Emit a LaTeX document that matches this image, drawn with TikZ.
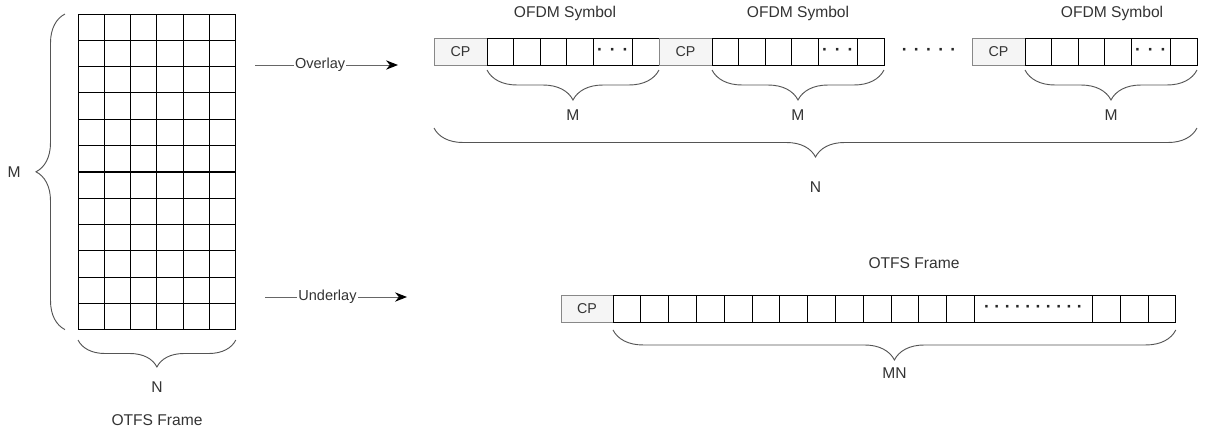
\documentclass[tikz,border=0pt]{standalone}
\usepackage{fontspec}
\setmainfont{Liberation Sans}
\usetikzlibrary{positioning, arrows.meta, decorations.pathreplacing}
\definecolor{txt}{HTML}{333333}
\definecolor{cpfill}{HTML}{F5F5F5}
\definecolor{cpline}{HTML}{888888}
\definecolor{brcline}{HTML}{555555}

\begin{document}
\begin{tikzpicture}[
        x=0.75pt, y=0.75pt,
        every node/.style={text=txt},
        lbl/.style={font=\fontsize{11.7}{14}\selectfont},
        elbl/.style={font=\fontsize{10.9}{13}\selectfont, fill=white, inner sep=1pt},
        cpbox/.style={rectangle, draw=cpline, fill=cpfill, line width=0.6pt, outer sep=0pt, minimum width=39.75pt, minimum height=20.25pt, font=\fontsize{10.7}{13}\selectfont},
        cell/.style={rectangle, draw, line width=0.7pt, outer sep=0pt, inner sep=0pt, minimum width=19.875pt, minimum height=20.25pt},
        dots/.style={font=\bfseries\fontsize{13}{13}\selectfont, text=black!85},
        dcell/.style={cell, minimum width=29.6pt, dots},
        brc/.style={decorate, decoration={brace, amplitude=#1}, draw=brcline, line width=0.7pt},
        arrow/.style={-{Stealth[length=9pt, width=7pt, color=black]}, draw=black!60, line width=0.7pt},
    ]
        \useasboundingbox (0,0) rectangle (1205,-436);

        % ====== 左侧：OTFS 帧网格 (M x N) ======
        \node[draw, line width=0.7pt, anchor=north west, minimum width=118.35pt, minimum height=236.7pt, inner sep=0pt, outer sep=0pt] (frame) at (78,-14) {};
        \foreach \i in {1,...,5}
            \draw[line width=0.7pt] ([xshift=\i*19.725pt]frame.north west) -- ([xshift=\i*19.725pt]frame.south west);
        \foreach \j in {1,...,11}
            \draw[line width=0.7pt] ([yshift=-\j*19.725pt]frame.north west) -- ([yshift=-\j*19.725pt]frame.north east);
        \draw[line width=1.5pt] ([yshift=-118.35pt]frame.north west) -- ([yshift=-118.35pt]frame.north east);

        \draw[brc=21.75pt] ([xshift=-9.75pt]frame.south west) -- ([xshift=-9.75pt]frame.north west)
            node[lbl, midway, xshift=-38.25pt] (mleft) {M};
        \draw[brc=20.25pt] ([yshift=-7.8pt]frame.south east) -- ([yshift=-7.8pt]frame.south west)
            node[lbl, midway, yshift=-35.25pt] (nleft) {N};
        \node[lbl] (ftitle) at (157,-420) {OTFS Frame};

        % ====== 箭头 ======
        \coordinate (ov-a) at (255,-65);
        \coordinate (ov-b) at (398,-65);
        \draw[arrow] (ov-a) -- node[elbl, pos=0.455] {Overlay} (ov-b);
        \coordinate (un-a) at (265,-297);
        \coordinate (un-b) at (407,-297);
        \draw[arrow] (un-a) -- node[elbl, pos=0.44] {Underlay} (un-b);

        % ====== 上行：OFDM 符号 ======
        \foreach \g/\gx in {1/434, 2/659, 3/972} {
            \node[cpbox, anchor=west] (cp\g) at (\gx,-51.5) {CP};
            \node[cell, right=0pt of cp\g] (s\g-1) {};
            \node[cell, right=0pt of s\g-1] (s\g-2) {};
            \node[cell, right=0pt of s\g-2] (s\g-3) {};
            \node[cell, right=0pt of s\g-3] (s\g-4) {};
            \node[dcell, right=0pt of s\g-4] (s\g-5) {·\hspace{5.3pt}·\hspace{5.3pt}·};
            \node[cell, right=0pt of s\g-5] (s\g-6) {};
            \draw[brc=22.5pt] ([yshift=-3.75pt]s\g-6.south east) -- ([yshift=-3.75pt]s\g-1.south west)
                node[lbl, midway, yshift=-33.75pt] (m\g) {M};
        }
        \node[lbl] (sym1) at (565,-13) {OFDM Symbol};
        \node[lbl] (sym2) at (798,-13) {OFDM Symbol};
        \node[lbl] (sym3) at (1112,-13) {OFDM Symbol};
        \node[dots] (gap) at (929,-51.5) {·\hspace{4.8pt}·\hspace{4.8pt}·\hspace{4.8pt}·\hspace{4.8pt}·};

        \draw[brc=21.75pt] ([yshift=-47.25pt]s3-6.south east) -- ([yshift=-47.25pt]cp1.south west)
            node[lbl, midway, yshift=-44.25pt] (nall) {N};

        % ====== 下行：OTFS 帧 (MN) ======
        \node[lbl] (otitle) at (914,-263) {OTFS Frame};
        \node[cpbox, anchor=west, minimum width=39pt] (cpb) at (561,-309) {CP};
        \node[cell, minimum width=20.85pt, right=0pt of cpb] (b1) {};
        \foreach \i [remember=\i as \k (initially 1)] in {2,...,13}
            \node[cell, minimum width=20.85pt, right=0pt of b\k] (b\i) {};
        \node[dcell, minimum width=88.5pt, right=0pt of b13] (b14)
            {·\hspace{3.4pt}·\hspace{3.4pt}·\hspace{3.4pt}·\hspace{3.4pt}·\hspace{3.4pt}·\hspace{3.4pt}·\hspace{3.4pt}·\hspace{3.4pt}·\hspace{3.4pt}·};
        \node[cell, minimum width=20.85pt, right=0pt of b14] (b15) {};
        \node[cell, minimum width=20.85pt, right=0pt of b15] (b16) {};
        \node[cell, minimum width=20.85pt, right=0pt of b16] (b17) {};

        \draw[brc=22.5pt] ([yshift=-5.6pt]b17.south east) -- ([yshift=-5.6pt]b1.south west)
            node[lbl, midway, yshift=-32.25pt] (mn) {MN};
    \end{tikzpicture}
\end{document}
